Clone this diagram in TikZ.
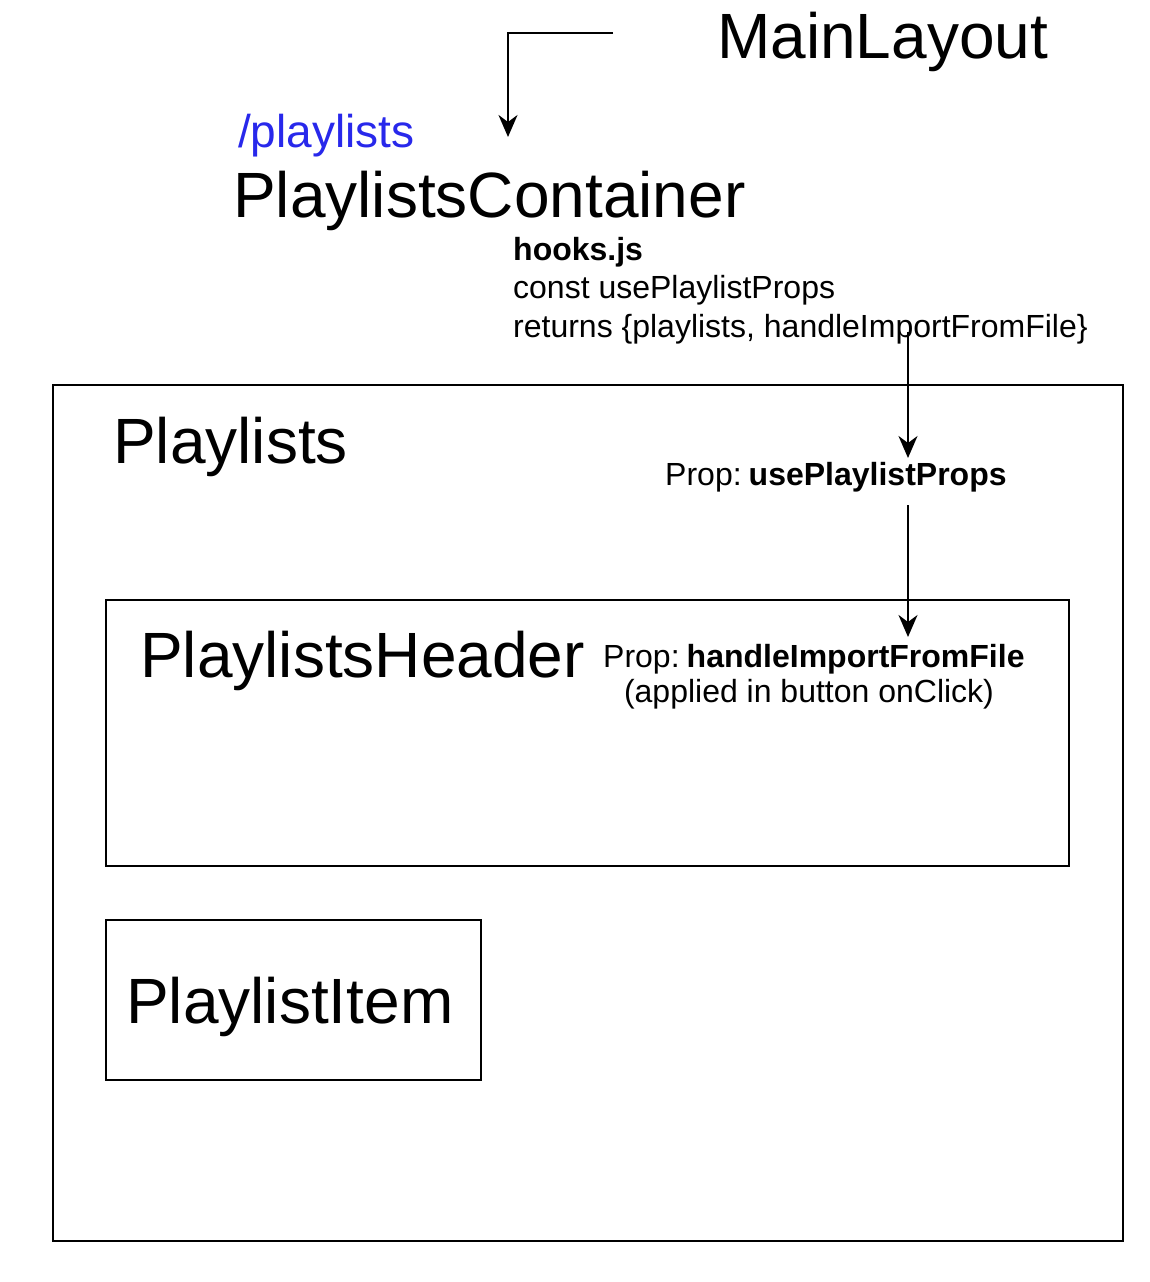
\documentclass[tikz,border=0pt]{standalone}
\usepackage{fontspec}
\setmainfont{Liberation Sans}
\usetikzlibrary{arrows.meta}
\definecolor{routeblue}{RGB}{40,40,235}
\begin{document}
\begin{tikzpicture}[x=1pt,y=-1pt,
  lbl/.style={inner sep=0pt, anchor=base west},
  big/.style={lbl, font=\fontsize{64}{76}\selectfont},
  small/.style={lbl, font=\fontsize{32}{38}\selectfont},
  frame/.style={draw, line width=2pt},
  arr/.style={line width=2pt, -{Stealth[length=22pt,width=19pt,inset=7pt]}}]
\useasboundingbox (0,0) rectangle (1150,1282);
% boxes
\draw[frame] (53,385) rectangle (1123,1241);
\draw[frame] (106,600) rectangle (1069,866);
\draw[frame] (106,920) rectangle (481,1080);
% texts
\node[big] (main) at (717,58) {MainLayout};
\node[lbl, font=\fontsize{46}{54}\selectfont, text=routeblue] (route) at (238,147) {/playlists};
\node[big] (container) at (233,217) {PlaylistsContainer};
\node[small] (hooks1) at (513,260) {\textbf{hooks.js}};
\node[small] (hooks2) at (513,298) {const usePlaylistProps};
\node[small] (hooks3) at (513,337) {returns \{playlists, handleImportFromFile\}};
\node[big] (playlists) at (113,463) {Playlists};
\node[small] (propA) at (665,485) {Prop:\kern0.22em\textbf{usePlaylistProps}};
\node[big] (header) at (140,677) {PlaylistsHeader};
\node[small] (propB) at (603,667) {Prop:\kern0.22em\textbf{handleImportFromFile}};
\node[small, anchor=base] (propC) at (809,702) {(applied in button onClick)};
\node[big] (item) at (126,1023) {PlaylistItem};
% connector ends
\coordinate (mainout) at (613,33);
\coordinate (bend) at (508,33);
\coordinate (containerin) at (508,137);
\coordinate (hooksout) at (908,332);
\coordinate (propAin) at (908,458);
\coordinate (propAout) at (908,505);
\coordinate (propBin) at (908,637);
% connectors
\draw[arr] (mainout) -- (bend) -- (containerin);
\draw[arr] (hooksout) -- (propAin);
\draw[arr] (propAout) -- (propBin);
\end{tikzpicture}
\end{document}
